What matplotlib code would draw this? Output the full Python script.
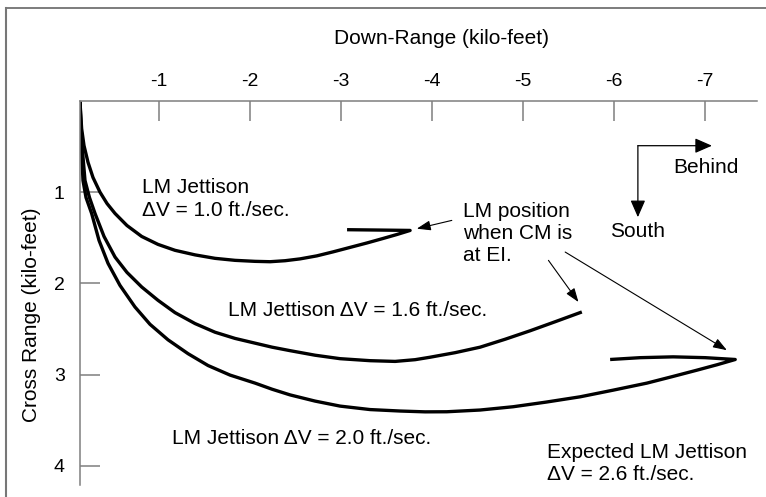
import matplotlib
matplotlib.use('Agg')
import matplotlib.pyplot as plt
from matplotlib.lines import Line2D

plt.rcParams['font.family'] = ['Liberation Sans', 'DejaVu Sans']

# trajectories (down-range, cross-range), kilo-feet
dr_10 = [-0.130, -0.139, -0.148, -0.174, -0.218, -0.273, -0.350, -0.427, -0.515, -0.646,
         -0.808, -0.987, -1.174, -1.394, -1.614, -1.834, -2.054, -2.219, -2.384, -2.548,
         -2.732, -2.911, -3.098, -3.285, -3.461, -3.615, -3.758, -3.428, -3.065]
cr_10 = [0.008, 0.161, 0.303, 0.489, 0.672, 0.839, 1.000, 1.124, 1.233, 1.365,
         1.485, 1.572, 1.637, 1.687, 1.725, 1.747, 1.758, 1.762, 1.751, 1.731,
         1.698, 1.654, 1.605, 1.556, 1.507, 1.463, 1.419, 1.415, 1.411]

dr_16 = [-0.130, -0.141, -0.157, -0.185, -0.234, -0.295, -0.394, -0.515, -0.646, -0.808,
         -0.987, -1.174, -1.394, -1.614, -1.834, -2.054, -2.241, -2.438, -2.713, -2.988,
         -3.318, -3.593, -3.813, -3.978, -4.253, -4.527, -4.802, -5.077, -5.352, -5.645]
cr_16 = [0.008, 0.271, 0.544, 0.872, 1.058, 1.233, 1.485, 1.711, 1.879, 2.039,
         2.185, 2.320, 2.440, 2.535, 2.603, 2.655, 2.699, 2.737, 2.787, 2.825,
         2.847, 2.855, 2.836, 2.809, 2.759, 2.699, 2.612, 2.519, 2.420, 2.313]

dr_20 = [-0.130, -0.139, -0.152, -0.163, -0.196, -0.258, -0.339, -0.438, -0.569, -0.734,
         -0.899, -1.097, -1.317, -1.537, -1.779, -2.054, -2.241, -2.438, -2.713, -2.988,
         -3.318, -3.648, -3.922, -4.161, -4.527, -4.890, -5.253, -5.627, -5.990, -6.360,
         -6.638, -6.910, -7.133, -7.331, -7.001, -6.649, -6.286, -5.956]
cr_20 = [0.008, 0.325, 0.653, 0.872, 1.058, 1.233, 1.528, 1.780, 2.021, 2.258,
         2.448, 2.618, 2.770, 2.900, 3.005, 3.093, 3.160, 3.222, 3.290, 3.345,
         3.383, 3.399, 3.408, 3.407, 3.388, 3.352, 3.301, 3.243, 3.170, 3.093,
         3.022, 2.951, 2.891, 2.834, 2.814, 2.805, 2.814, 2.834]

x_ticks = [-1, -2, -3, -4, -5, -6, -7]
y_ticks = [1, 2, 3, 4]

gray = '#7f7f7f'

fig = plt.figure(figsize=(7.66, 4.97), dpi=100)
ax = fig.add_axes([80/766, 1-485/497, 677/766, 384/497])

for xs, ys in [(dr_10, cr_10), (dr_16, cr_16), (dr_20, cr_20)]:
    ax.plot(xs, ys, color='black', linewidth=2.4, solid_joinstyle='round',
            solid_capstyle='butt')

ax.set_xlim(-0.13, -7.57)
ax.set_ylim(4.21, 0)
ax.xaxis.tick_top()
ax.set_xticks(x_ticks)
ax.set_xticklabels([str(v) for v in x_ticks])
ax.set_yticks(y_ticks)
ax.set_yticklabels([str(v) for v in y_ticks])
ax.tick_params(axis='both', direction='in', length=14.5, width=1.1, color=gray,
               labelsize=14)
ax.tick_params(axis='x', pad=8)
ax.tick_params(axis='y', pad=11)
for s in ['bottom', 'right']:
    ax.spines[s].set_visible(False)
for s in ['top', 'left']:
    ax.spines[s].set_color(gray)
    ax.spines[s].set_linewidth(1.1)

fig.text(442/766, 1-38/497, 'Down-Range (kilo-feet)', ha='center', va='center', fontsize=15)
fig.text(32/766, 1-315/497, 'Cross Range (kilo-feet)', ha='center', va='center',
         rotation=90, fontsize=15)

fs = 15
ax.text(-0.808, 1.075, 'LM Jettison\n\u0394V = 1.0 ft./sec.', ha='left', va='center',
        fontsize=fs, linespacing=1.3)
ax.text(-1.757, 2.292, 'LM Jettison \u0394V = 1.6 ft./sec.', ha='left', va='center', fontsize=fs)
ax.text(-1.138, 3.695, 'LM Jettison \u0394V = 2.0 ft./sec.', ha='left', va='center', fontsize=fs)
ax.text(-5.261, 3.972, 'Expected LM Jettison\n\u0394V = 2.6 ft./sec.', ha='left', va='center',
        fontsize=fs, linespacing=1.2)
ax.text(-4.340, 1.457, 'LM position\nwhen CM is\nat EI.', ha='left', va='center',
        fontsize=fs, linespacing=1.2)
ax.text(-6.649, 0.730, 'Behind', ha='left', va='center', fontsize=fs)
ax.text(-5.956, 1.430, 'South', ha='left', va='center', fontsize=fs)

# direction arrows
head = dict(arrowstyle='-|>,head_length=0.8,head_width=0.35', color='black',
            lw=0.9, shrinkA=0, shrinkB=0, mutation_scale=13)
ax.annotate('', xy=(-7.075, 0.490), xytext=(-6.261, 0.490), arrowprops=head)
ax.annotate('', xy=(-6.261, 1.274), xytext=(-6.261, 0.490), arrowprops=head)

thin = dict(arrowstyle='-|>,head_length=0.7,head_width=0.25', color='black',
            lw=0.8, shrinkA=0, shrinkB=0, mutation_scale=12)
ax.annotate('', xy=(-3.831, 1.400), xytext=(-4.216, 1.309), arrowprops=thin)
ax.annotate('', xy=(-5.608, 2.204), xytext=(-5.278, 1.747), arrowprops=thin)
ax.annotate('', xy=(-7.239, 2.732), xytext=(-5.462, 1.656), arrowprops=thin)

# outer frame (top and left edges only)
fig.add_artist(Line2D([5.5/766, 1], [1-7.5/497, 1-7.5/497], color='#666666', lw=1.2))
fig.add_artist(Line2D([5.5/766, 5.5/766], [0, 1-7.5/497], color='#777777', lw=1.5))

fig.savefig('out.png', dpi=100)
